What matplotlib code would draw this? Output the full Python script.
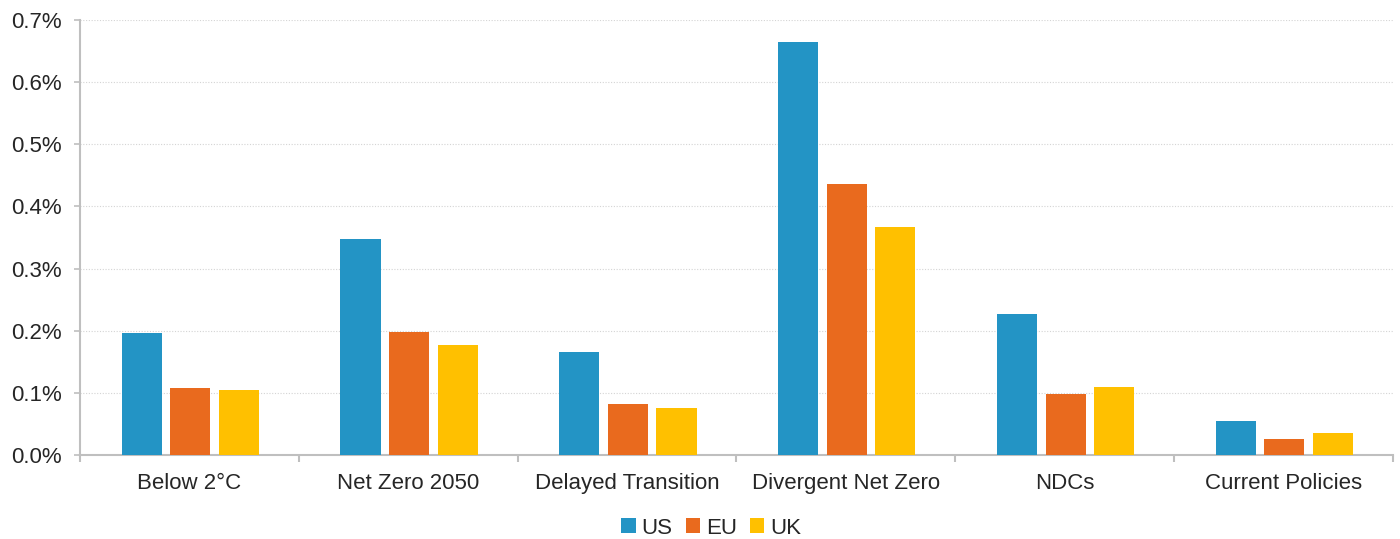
import matplotlib
matplotlib.use("Agg")
import matplotlib.pyplot as plt
import numpy as np
from matplotlib.ticker import FuncFormatter, FixedLocator
from matplotlib.patches import Patch

plt.rcParams['font.family'] = ['Liberation Sans', 'DejaVu Sans']

categories = ["Below 2°C", "Net Zero 2050", "Delayed Transition", "Divergent Net Zero", "NDCs", "Current Policies"]
us = [0.196, 0.348, 0.166, 0.665, 0.227, 0.055]
eu = [0.108, 0.198, 0.082, 0.436, 0.098, 0.026]
uk = [0.105, 0.177, 0.076, 0.367, 0.109, 0.035]
series_names = ["US", "EU", "UK"]
colors = ["#2394C5", "#E96A1E", "#FFC000"]

fig = plt.figure(figsize=(14, 5.39), dpi=100)
ax = fig.add_axes([0.0571, 0.1558, 0.9379, 0.8072])

x = np.arange(len(categories))
width = 0.183
offset = 0.222
for i, (vals, c) in enumerate(zip([us, eu, uk], colors)):
    ax.bar(x + (i - 1) * offset + 0.004, vals, width, color=c, zorder=3)

ax.set_xlim(-0.5, len(categories) - 0.5)
ax.set_ylim(0, 0.7)
ax.set_yticks(np.arange(0, 0.71, 0.1))
ax.yaxis.set_major_formatter(FuncFormatter(lambda v, p: f"{v:.1f}%"))
ax.grid(axis='y', color='#D4D4D4', linestyle=(0, (1, 1.5)), linewidth=0.8, zorder=0)

ax.set_xticks(x)
ax.set_xticklabels(categories)
ax.xaxis.set_minor_locator(FixedLocator(np.arange(-0.5, len(categories), 1.0)))
ax.tick_params(axis='x', which='major', length=0, pad=13, labelsize=16, labelcolor='#262626')
ax.tick_params(axis='x', which='minor', length=5, color='#BFBFBF', width=1.5)
ax.tick_params(axis='y', length=4, color='#BFBFBF', width=1.2, labelsize=16, labelcolor='#262626', pad=9)

for s in ['top', 'right']:
    ax.spines[s].set_visible(False)
for s in ['left', 'bottom']:
    ax.spines[s].set_color('#BFBFBF')
    ax.spines[s].set_linewidth(1.5)

handles = [Patch(facecolor=c, label=n) for n, c in zip(series_names, colors)]
fig.legend(handles=handles, loc='center', bbox_to_anchor=(0.508, 0.02), ncol=3, frameon=False,
           fontsize=16, handlelength=0.65, handleheight=0.65, handletextpad=0.25, columnspacing=0.6,
           labelcolor='#262626')

fig.savefig("out.png", dpi=100)
